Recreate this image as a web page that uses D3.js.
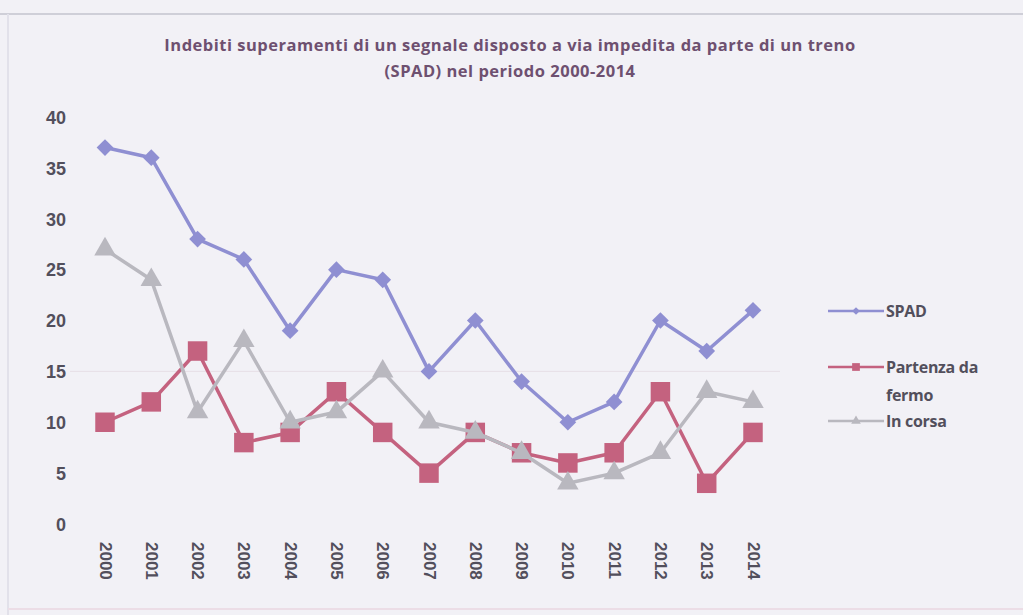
<!DOCTYPE html>
<html>
<head>
<meta charset="utf-8">
<script src="https://cdn.jsdelivr.net/npm/d3@7"></script>
<style>
  body { margin: 0; background: #f2f1f6; }
  svg { display: block; }
</style>
</head>
<body>
<div id="viz"></div>
<script>
"use strict";

var years = ["2000","2001","2002","2003","2004","2005","2006","2007","2008","2009","2010","2011","2012","2013","2014"];
var spad = [37, 36, 28, 26, 19, 25, 24, 15, 20, 14, 10, 12, 20, 17, 21];
var partenza = [10, 12, 17, 8, 9, 13, 9, 5, 9, 7, 6, 7, 13, 4, 9];
var inCorsa = [27, 24, 11, 18, 10, 11, 15, 10, 9, 7, 4, 5, 7, 13, 12];
var yTicks = [0, 5, 10, 15, 20, 25, 30, 35, 40];
var seriesNames = ["SPAD", "Partenza da fermo", "In corsa"];

var width = 1023, height = 615;
var textColor = "#524f5c";

var series = [
	{ name: seriesNames[0], values: spad, color: "#8f8fd2", marker: "diamond" },
	{ name: seriesNames[1], values: partenza, color: "#c4627f", marker: "square" },
	{ name: seriesNames[2], values: inCorsa, color: "#b9b8bf", marker: "triangle" }
];

var svg = d3.select("#viz").append("svg")
	.attr("width", width)
	.attr("height", height)
	.style("font-family", "'Open Sans', sans-serif");

// scanned page frame
svg.append("line").attr("x1", 0).attr("x2", width).attr("y1", 14).attr("y2", 14)
	.attr("stroke", "#cfcfd8").attr("stroke-width", 2);
svg.append("line").attr("x1", 8).attr("x2", 8).attr("y1", 14).attr("y2", height)
	.attr("stroke", "#e2e1ea").attr("stroke-width", 2);
svg.append("line").attr("x1", 8).attr("x2", width).attr("y1", 609).attr("y2", 609)
	.attr("stroke", "#ecdde6").attr("stroke-width", 2);

var title = svg.append("text")
	.attr("text-anchor", "middle")
	.attr("fill", "#6e5070")
	.attr("font-weight", "bold")
	.attr("font-size", "16.5px")
	.attr("letter-spacing", "0.5px");
title.append("tspan").attr("x", 510).attr("y", 51)
	.text("Indebiti superamenti di un segnale disposto a via impedita da parte di un treno");
title.append("tspan").attr("x", 510).attr("y", 77)
	.text("(SPAD) nel periodo 2000-2014");

var x = d3.scalePoint().domain(years).range([105, 753]);
var y = d3.scaleLinear().domain([0, 40]).range([524, 117]);

// faint gridline seen on the scan
svg.append("line")
	.attr("x1", 70).attr("x2", 780)
	.attr("y1", y(15)).attr("y2", y(15))
	.attr("stroke", "#e6dfe6").attr("stroke-width", 1);

var yAxis = svg.append("g")
	.attr("transform", "translate(66,0)")
	.call(d3.axisLeft(y).tickValues(yTicks).tickSize(0).tickPadding(0));
yAxis.select(".domain").remove();
yAxis.selectAll("text")
	.attr("fill", textColor)
	.attr("font-size", "18px")
	.attr("font-weight", "bold")
	.attr("dy", "0.35em");

var xAxis = svg.append("g")
	.attr("transform", "translate(0,540)")
	.call(d3.axisBottom(x).tickSize(0).tickPadding(0));
xAxis.select(".domain").remove();
xAxis.selectAll("text")
	.attr("fill", textColor)
	.attr("font-size", "17px")
	.attr("font-weight", "bold")
	.attr("text-anchor", "start")
	.attr("transform", "rotate(90)")
	.attr("x", 2)
	.attr("y", 0)
	.attr("dy", "0.35em");

var line = d3.line()
	.x(function(d, i) { return x(years[i]) })
	.y(function(d) { return y(d) });

var symbolFor = function(marker, big) {
	if (marker === "diamond") return d3.symbol().type(d3.symbolSquare).size(big ? 140 : 30)();
	if (marker === "square") return d3.symbol().type(d3.symbolSquare).size(big ? 380 : 60)();
	return d3.symbol().type(d3.symbolTriangle).size(big ? 200 : 40)();
};

series.forEach(function(s) {
	svg.append("path")
		.attr("d", line(s.values))
		.attr("fill", "none")
		.attr("stroke", s.color)
		.attr("stroke-width", 3.5)
		.attr("stroke-linejoin", "round");

	svg.append("g").selectAll("path")
		.data(s.values)
		.enter()
		.append("path")
		.attr("d", symbolFor(s.marker, true))
		.attr("fill", s.color)
		.attr("transform", function(d, i) {
			var t = "translate(" + x(years[i]) + "," + y(d) + ")";
			return s.marker === "diamond" ? t + " rotate(45)" : t;
		});
});

// legend
var legendY = [311, 367, 421];
var legend = svg.append("g");
series.forEach(function(s, i) {
	var g = legend.append("g").attr("transform", "translate(0," + legendY[i] + ")");
	g.append("line").attr("x1", 828).attr("x2", 884).attr("y1", 0).attr("y2", 0)
		.attr("stroke", s.color).attr("stroke-width", 2.5);
	g.append("path")
		.attr("d", symbolFor(s.marker, false))
		.attr("fill", s.color)
		.attr("transform", "translate(856,0)" + (s.marker === "diamond" ? " rotate(45)" : ""));
	var t = g.append("text")
		.attr("fill", textColor)
		.attr("font-size", "16px")
		.attr("font-weight", "bold")
		.attr("letter-spacing", "-0.3px");
	if (i === 1) {
		t.append("tspan").attr("x", 886).attr("dy", "0.35em").text("Partenza da");
		t.append("tspan").attr("x", 886).attr("dy", "1.8em").text("fermo");
	} else {
		t.append("tspan").attr("x", 886).attr("dy", "0.35em").text(s.name);
	}
});
</script>
</body>
</html>
